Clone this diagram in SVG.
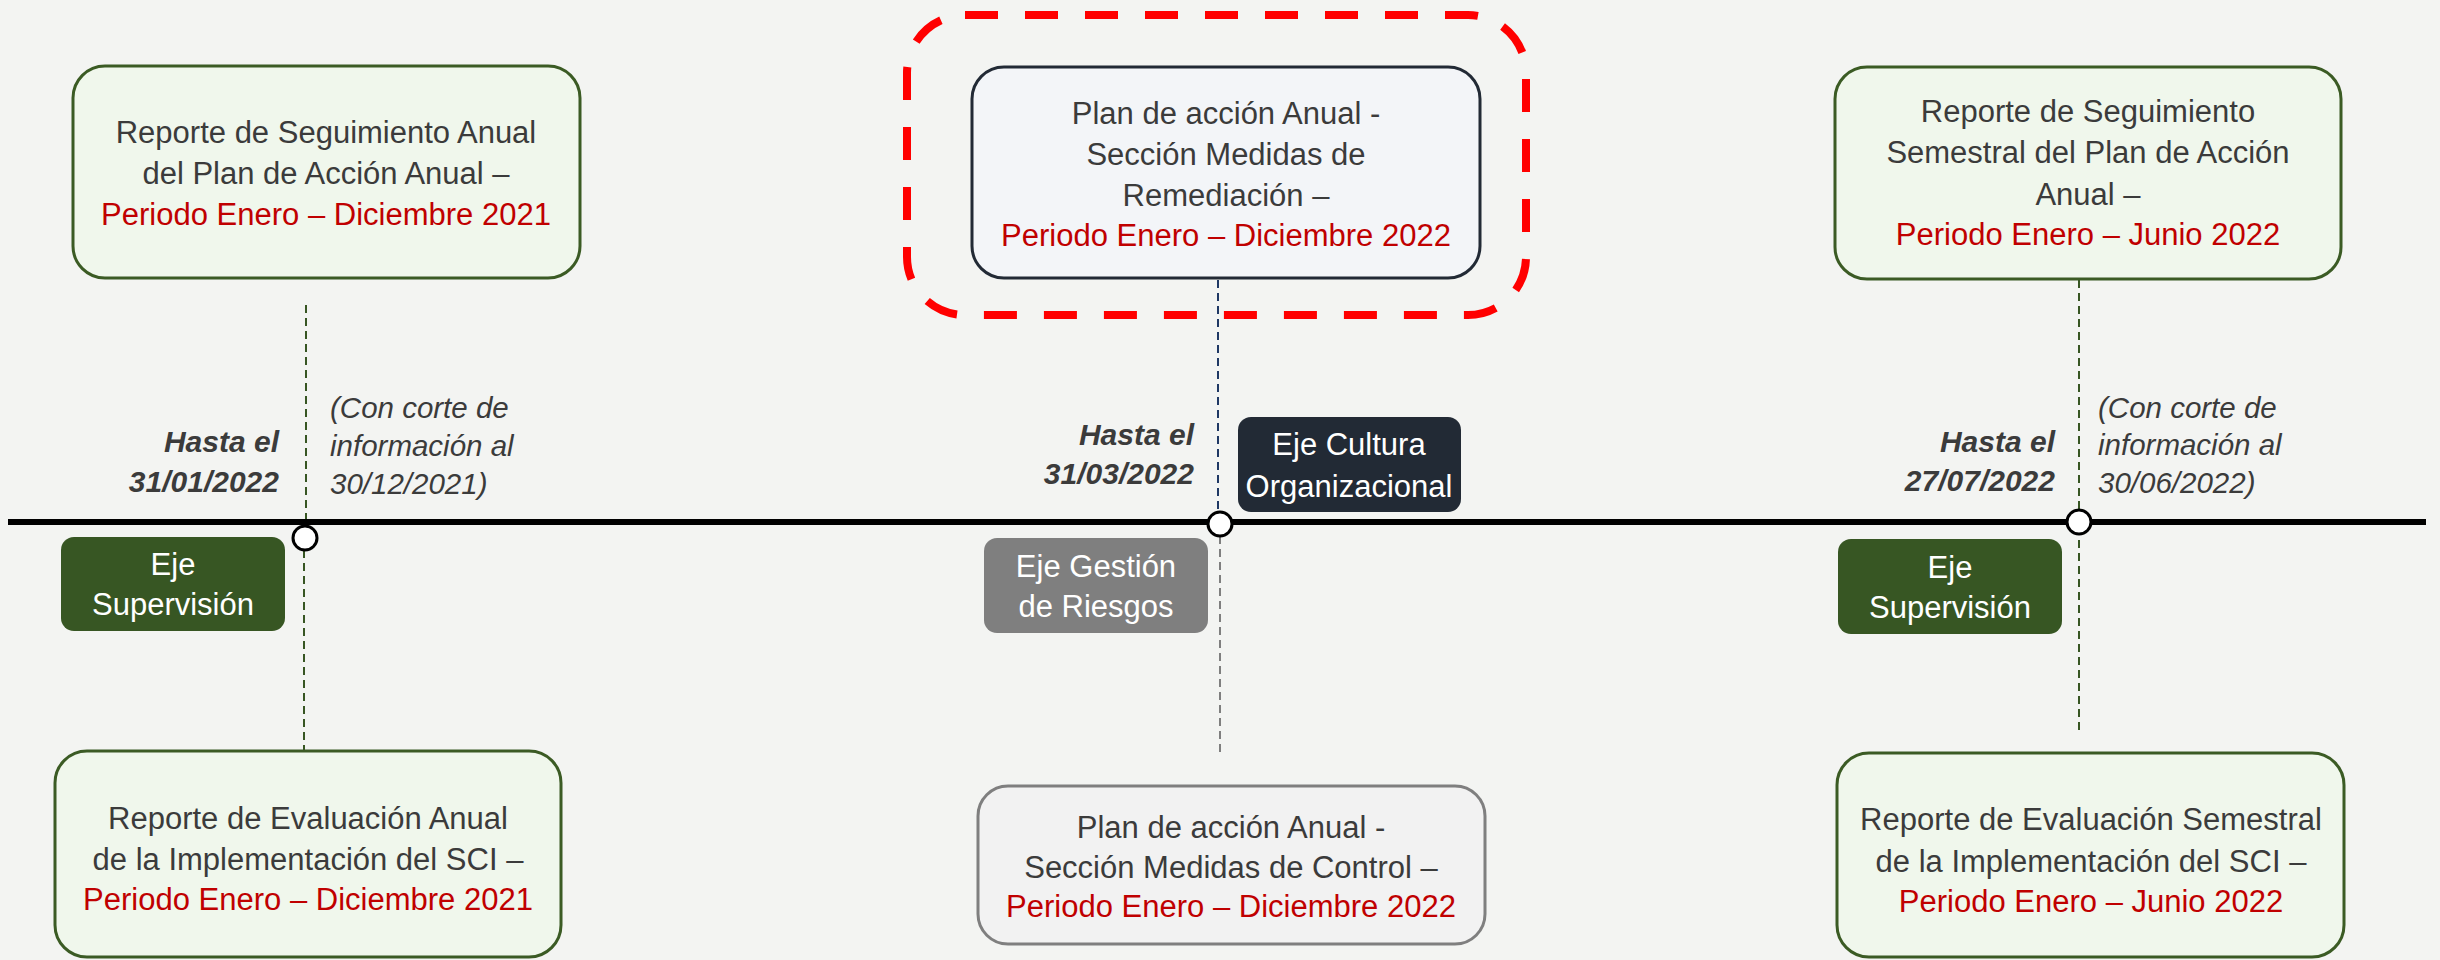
<svg xmlns="http://www.w3.org/2000/svg" width="2440" height="960" viewBox="0 0 2440 960">
<style>
  text { font-family: "Liberation Sans", Arial, sans-serif; }
  .t { font-size: 31px; fill: #3b3b3b; text-anchor: middle; }
  .r { fill: #c00000; }
  .w { font-size: 31px; fill: #ffffff; text-anchor: middle; }
  .green { fill: #f0f7ec; stroke: #3b5b24; stroke-width: 3; }
  .tag-green { fill: #375623; }
  .date { font-size: 30px; font-weight: bold; font-style: italic; fill: #3b3b3b; text-anchor: end; }
  .note { font-size: 29.5px; font-style: italic; fill: #3b3b3b; text-anchor: start; }
  .dash { stroke-width: 2; stroke-dasharray: 8 5; fill: none; }
  .dot { fill: #ffffff; stroke: #000000; stroke-width: 3; }
</style>
<rect x="0" y="0" width="2440" height="960" fill="#f3f4f2"/>

<g id="connectors">
  <line class="dash" x1="306" y1="305" x2="306" y2="526" stroke="#375623"/>
  <line class="dash" x1="304" y1="550" x2="304" y2="751" stroke="#375623"/>
  <line class="dash" x1="1218" y1="280" x2="1218" y2="512" stroke="#1f3864"/>
  <line class="dash" x1="1220" y1="536" x2="1220" y2="753" stroke="#7f7f7f"/>
  <line class="dash" x1="2079" y1="280" x2="2079" y2="731" stroke="#375623"/>
</g>

<g id="timeline">
  <line x1="8" y1="522" x2="2426" y2="522" stroke="#000000" stroke-width="6"/>
  <circle class="dot" cx="305" cy="538" r="12"/>
  <circle class="dot" cx="1220" cy="524" r="12"/>
  <circle class="dot" cx="2079" cy="522" r="12"/>
</g>

<g id="highlight">
  <rect x="907" y="15" width="619" height="300" rx="58" fill="none" stroke="#ff0000" stroke-width="8" stroke-dasharray="33 27"/>
</g>

<g id="box-seg-anual">
  <rect class="green" x="73" y="66" width="507" height="212" rx="32"/>
  <text class="t"><tspan x="326" y="143">Reporte de Seguimiento Anual</tspan><tspan x="326" y="184">del Plan de Acción Anual –</tspan><tspan class="r" x="326" y="225">Periodo Enero – Diciembre 2021</tspan></text>
</g>

<g id="box-eval-anual">
  <rect class="green" x="55" y="751" width="506" height="206" rx="32"/>
  <text class="t"><tspan x="308" y="829">Reporte de Evaluación Anual</tspan><tspan x="308" y="870">de la Implementación del SCI –</tspan><tspan class="r" x="308" y="910">Periodo Enero – Diciembre 2021</tspan></text>
</g>

<g id="box-plan-remediacion">
  <rect x="972" y="67" width="508" height="211" rx="32" fill="#f3f5f8" stroke="#222a35" stroke-width="3"/>
  <text class="t"><tspan x="1226" y="124">Plan de acción Anual -</tspan><tspan x="1226" y="165">Sección Medidas de</tspan><tspan x="1226" y="206">Remediación –</tspan><tspan class="r" x="1226" y="246">Periodo Enero – Diciembre 2022</tspan></text>
</g>

<g id="box-plan-control">
  <rect x="978" y="786" width="507" height="158" rx="30" fill="#f2f2f2" stroke="#7f7f7f" stroke-width="3"/>
  <text class="t"><tspan x="1231" y="838">Plan de acción Anual  -</tspan><tspan x="1231" y="878">Sección Medidas de Control –</tspan><tspan class="r" x="1231" y="917">Periodo Enero – Diciembre 2022</tspan></text>
</g>

<g id="box-seg-semestral">
  <rect class="green" x="1835" y="67" width="506" height="212" rx="32"/>
  <text class="t"><tspan x="2088" y="122">Reporte de Seguimiento</tspan><tspan x="2088" y="163">Semestral del Plan de Acción</tspan><tspan x="2088" y="205">Anual –</tspan><tspan class="r" x="2088" y="245">Periodo Enero – Junio 2022</tspan></text>
</g>

<g id="box-eval-semestral">
  <rect class="green" x="1837" y="753" width="507" height="204" rx="32"/>
  <text class="t"><tspan x="2091" y="830">Reporte de Evaluación Semestral</tspan><tspan x="2091" y="872">de la Implementación del SCI –</tspan><tspan class="r" x="2091" y="912">Periodo Enero – Junio 2022</tspan></text>
</g>

<g id="tag-supervision-1">
  <rect class="tag-green" x="61" y="537" width="224" height="94" rx="13"/>
  <text class="w"><tspan x="173" y="575">Eje</tspan><tspan x="173" y="615">Supervisión</tspan></text>
</g>

<g id="tag-cultura">
  <rect x="1238" y="417" width="223" height="95" rx="13" fill="#222a35"/>
  <text class="w"><tspan x="1349" y="455">Eje Cultura</tspan><tspan x="1349" y="497">Organizacional</tspan></text>
</g>

<g id="tag-riesgos">
  <rect x="984" y="538" width="224" height="95" rx="13" fill="#7f7f7f"/>
  <text class="w"><tspan x="1096" y="577">Eje Gestión</tspan><tspan x="1096" y="617">de Riesgos</tspan></text>
</g>

<g id="tag-supervision-2">
  <rect class="tag-green" x="1838" y="539" width="224" height="95" rx="13"/>
  <text class="w"><tspan x="1950" y="578">Eje</tspan><tspan x="1950" y="618">Supervisión</tspan></text>
</g>

<g id="label-date-1">
  <text class="date"><tspan x="279" y="452">Hasta el</tspan><tspan x="279" y="492">31/01/2022</tspan></text>
</g>
<g id="label-note-1">
  <text class="note"><tspan x="330" y="418">(Con corte de</tspan><tspan x="330" y="456">información al</tspan><tspan x="330" y="494">30/12/2021)</tspan></text>
</g>
<g id="label-date-2">
  <text class="date"><tspan x="1194" y="445">Hasta el</tspan><tspan x="1194" y="484">31/03/2022</tspan></text>
</g>
<g id="label-date-3">
  <text class="date"><tspan x="2055" y="452">Hasta el</tspan><tspan x="2055" y="491">27/07/2022</tspan></text>
</g>
<g id="label-note-3">
  <text class="note"><tspan x="2098" y="418">(Con corte de</tspan><tspan x="2098" y="455">información al</tspan><tspan x="2098" y="493">30/06/2022)</tspan></text>
</g>
</svg>
